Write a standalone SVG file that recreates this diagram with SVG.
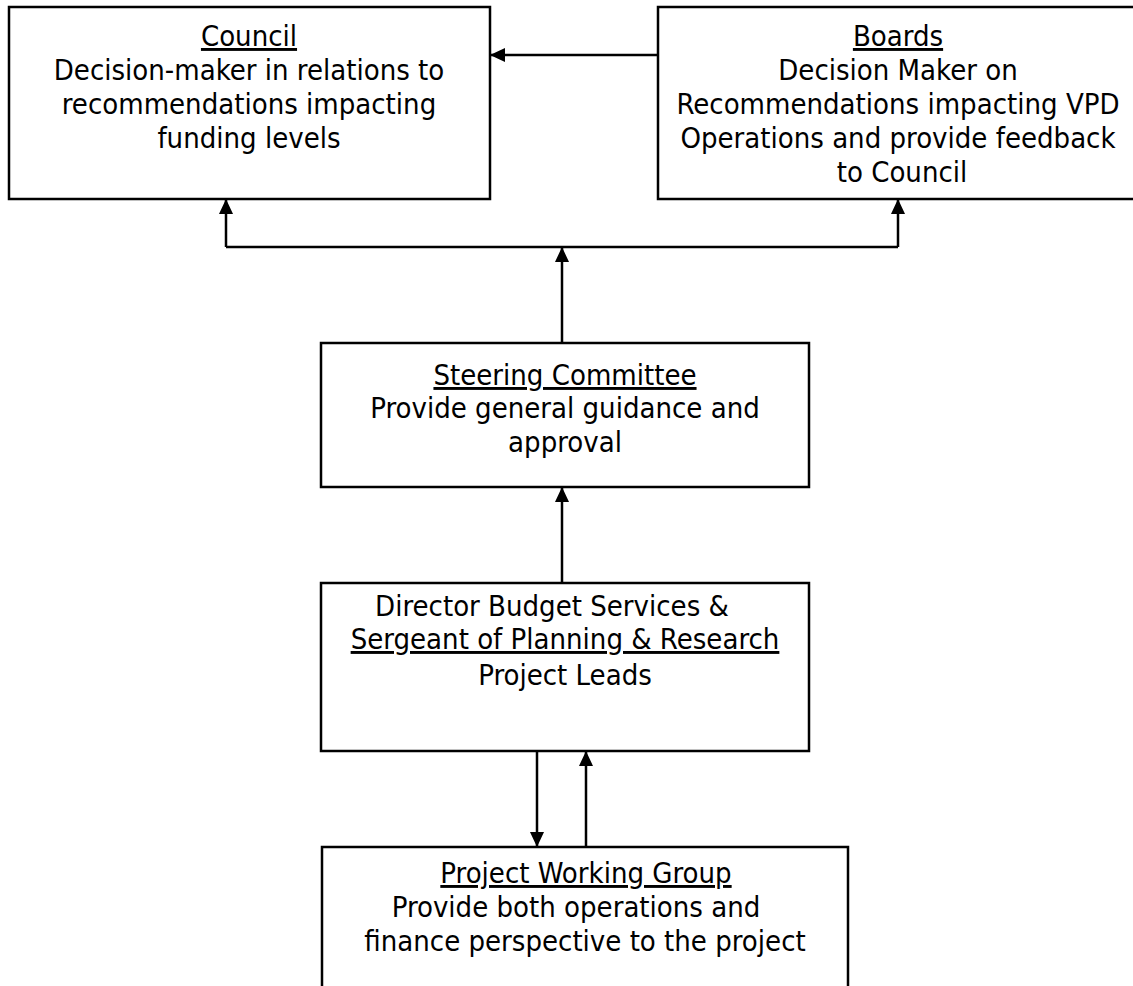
<svg xmlns="http://www.w3.org/2000/svg" width="1133" height="986" viewBox="0 0 1133 986">
<style>
.box{fill:#fff;stroke:#000;stroke-width:2.5}
.t{font-family:"DejaVu Sans Condensed","DejaVu Sans",sans-serif;font-size:29px;fill:#000;text-anchor:middle}
.u{text-decoration:underline}
.c{fill:none;stroke:#000;stroke-width:2.5}
</style>
<defs>
<marker id="ah" viewBox="0 0 15 14" refX="15" refY="7" markerWidth="15" markerHeight="14" markerUnits="userSpaceOnUse" orient="auto">
<path d="M0,0 L15,7 L0,14 Z" fill="#000"/>
</marker>
</defs>
<rect width="1133" height="986" fill="#fff"/>
<g id="council">
<rect class="box" x="9" y="7" width="481" height="192"/>
<text class="t" x="249" y="46"><tspan class="u">Council</tspan></text>
<text class="t" x="249" y="80">Decision-maker in relations to</text>
<text class="t" x="249" y="114">recommendations impacting</text>
<text class="t" x="249" y="148">funding levels</text>
</g>
<g id="boards">
<rect class="box" x="658" y="7" width="482" height="192"/>
<text class="t" x="898" y="46"><tspan class="u">Boards</tspan></text>
<text class="t" x="898" y="80">Decision Maker on</text>
<text class="t" x="898" y="114">Recommendations impacting VPD</text>
<text class="t" x="898" y="148">Operations and provide feedback</text>
<text class="t" x="902" y="182">to Council</text>
</g>
<g id="steering">
<rect class="box" x="321" y="343" width="488" height="144"/>
<text class="t" x="565" y="385"><tspan class="u">Steering Committee</tspan></text>
<text class="t" x="565" y="418">Provide general guidance and</text>
<text class="t" x="565" y="452">approval</text>
</g>
<g id="leads">
<rect class="box" x="321" y="583" width="488" height="168"/>
<text class="t" x="552" y="616">Director Budget Services &amp;</text>
<text class="t" x="565" y="649"><tspan class="u">Sergeant of Planning &amp; Research</tspan></text>
<text class="t" x="565" y="685">Project Leads</text>
</g>
<g id="working-group">
<rect class="box" x="322" y="847" width="526" height="160"/>
<text class="t" x="586" y="883"><tspan class="u">Project Working Group</tspan></text>
<text class="t" x="576" y="917">Provide both operations and</text>
<text class="t" x="585" y="951">finance perspective to the project</text>
</g>
<g id="connectors">
<line class="c" x1="658" y1="55" x2="490" y2="55" marker-end="url(#ah)"/>
<polyline class="c" points="226,247 898,247"/>
<line class="c" x1="226" y1="247" x2="226" y2="199" marker-end="url(#ah)"/>
<line class="c" x1="898" y1="247" x2="898" y2="199" marker-end="url(#ah)"/>
<line class="c" x1="562" y1="343" x2="562" y2="247" marker-end="url(#ah)"/>
<line class="c" x1="562" y1="583" x2="562" y2="487" marker-end="url(#ah)"/>
<line class="c" x1="537" y1="751" x2="537" y2="847" marker-end="url(#ah)"/>
<line class="c" x1="586" y1="847" x2="586" y2="751" marker-end="url(#ah)"/>
</g>
</svg>
